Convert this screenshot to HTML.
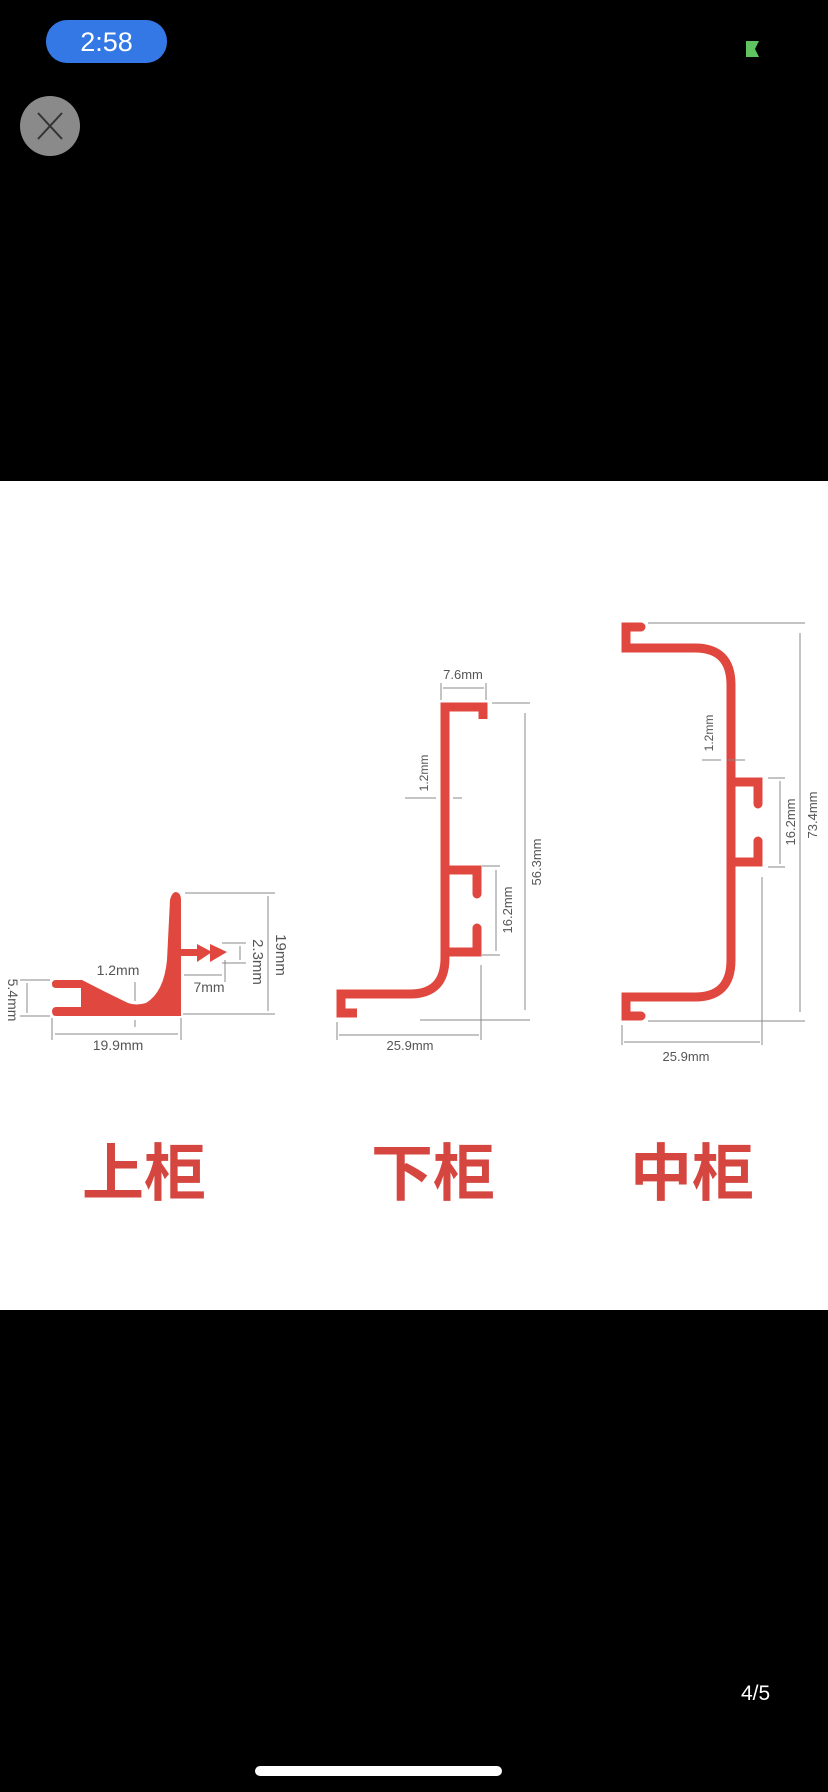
<!DOCTYPE html>
<html><head><meta charset="utf-8"><style>
html,body{margin:0;padding:0;background:#000;width:828px;height:1792px;overflow:hidden;}
svg{display:block}
</style></head><body>
<svg width="828" height="1792" viewBox="0 0 828 1792" xmlns="http://www.w3.org/2000/svg" font-family="Liberation Sans, sans-serif">
<rect width="828" height="1792" fill="#000"/>
<!-- status -->
<rect x="46" y="20" width="121" height="43" rx="21" fill="#3478e5"/>
<text x="106.5" y="51" font-size="27" fill="#fff" text-anchor="middle">2:58</text>
<path d="M746 41 h13 l-4 8 l4 8 h-13 z" fill="#5fc35f"/>
<ellipse cx="50" cy="126" rx="30" ry="30" fill="#8a8a8a"/>
<path d="M38 113 L62 139 M62 113 L38 139" stroke="#333" stroke-width="2"/>
<!-- white panel -->
<rect x="0" y="481" width="828" height="829" fill="#fff"/>
<g fill="#e0473f" stroke="none">
 <!-- upper cabinet -->
 <path d="M56 980 L82 980 Q105 992 128 1003 Q136 1006 146 1003 Q164 992 167 960 L170 900 Q172 892 176 892 Q181 893 181 900 L181 1016 L56 1016 Q52 1016 52 1011 L52 1012 Q52 1007 56 1007 L81 1007 L81 988 L56 988 Q52 988 52 984 Q52 980 56 980 Z"/>
 <rect x="181" y="949" width="20" height="7"/>
 <path d="M197 944 L212 952 L197 962 Z M210 944 L227 952 L210 962 Z"/>
</g>
<g fill="none" stroke="#e0473f" stroke-width="9" stroke-linecap="round" stroke-linejoin="miter">
 <!-- lower -->
 <path d="M483 719 L483 707 L445 707 L445 958 Q445 994 410 994 L341 994 L341 1013 L357 1013" stroke-linecap="butt"/>
 <path d="M445 870 L477 870 L477 894"/>
 <path d="M477 928 L477 952 L445 952"/>
 <!-- middle -->
 <path d="M641 627 L626 627 L626 648 L695 648 Q731 648 731 685 L731 960 Q731 997 695 997 L626 997 L626 1016 L641 1016"/>
 <path d="M731 782 L758 782 L758 804"/>
 <path d="M758 841 L758 862 L731 862"/>
</g>
<g stroke="#888" stroke-width="1" fill="none">
 <path d="M185 893 H275 M183 1014 H275 M268 896 V1011"/>
 <path d="M222 943 H246 M222 963 H246 M240 946 V960"/>
 <path d="M225 960 V982 M184 975 H222"/>
 <path d="M135 982 V1001 M135 1020 V1027"/>
 <path d="M20 980 H50 M20 1016 H50 M27 983 V1013"/>
 <path d="M52 1018 V1040 M181 1018 V1040 M55 1034 H178"/>
 <path d="M441 683 V700 M486 683 V700 M443 688 H484"/>
 <path d="M492 703 H530 M420 1020 H530 M525 713 V1010"/>
 <path d="M482 866 H500 M482 955 H500 M496 870 V951"/>
 <path d="M405 798 H436 M462 798 H453"/>
 <path d="M337 1022 V1040 M481 965 V1040 M339 1035 H479"/>
 <path d="M768 778 H785 M768 867 H785 M780 781 V864"/>
 <path d="M648 623 H805 M648 1021 H805 M800 633 V1012"/>
 <path d="M702 760 H721 M745 760 H728"/>
 <path d="M622 1025 V1045 M762 877 V1045 M624 1042 H760"/>
</g>
<g font-size="14" fill="#555">
 <text x="118" y="975" text-anchor="middle">1.2mm</text>
 <text x="209" y="992" text-anchor="middle">7mm</text>
 <text x="118" y="1050" text-anchor="middle">19.9mm</text>
 <text transform="translate(276,955) rotate(90)" text-anchor="middle" font-size="15">19mm</text>
 <text transform="translate(253,962) rotate(90)" text-anchor="middle" font-size="15">2.3mm</text>
 <text transform="translate(8,1000) rotate(90)" text-anchor="middle">5.4mm</text>
 <text x="463" y="679" text-anchor="middle" font-size="13">7.6mm</text>
 <text transform="translate(541,862) rotate(-90)" text-anchor="middle" font-size="13">56.3mm</text>
 <text transform="translate(512,910) rotate(-90)" text-anchor="middle" font-size="13">16.2mm</text>
 <text transform="translate(428,773) rotate(-90)" text-anchor="middle" font-size="12">1.2mm</text>
 <text x="410" y="1050" text-anchor="middle" font-size="13">25.9mm</text>
 <text transform="translate(795,822) rotate(-90)" text-anchor="middle" font-size="13">16.2mm</text>
 <text transform="translate(817,815) rotate(-90)" text-anchor="middle" font-size="13">73.4mm</text>
 <text transform="translate(713,733) rotate(-90)" text-anchor="middle" font-size="12">1.2mm</text>
 <text x="686" y="1061" text-anchor="middle" font-size="13">25.9mm</text>
</g>
<g font-size="62" font-weight="bold" fill="#d4463f" font-family="Liberation Sans, Noto Sans CJK SC, sans-serif">
 <text x="82" y="1195">上柜</text>
 <text x="371" y="1195">下柜</text>
 <text x="630" y="1195">中柜</text>
</g>
<text x="741" y="1700" font-size="21" fill="#fff">4/5</text>
<rect x="255" y="1766" width="247" height="10" rx="5" fill="#fff"/>
</svg>
</body></html>
